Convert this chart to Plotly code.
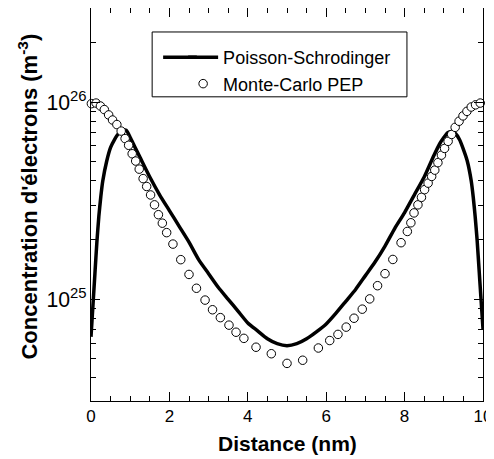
import plotly.graph_objects as go

# Poisson-Schrodinger curve: distance (nm) and log10 of concentration
ps_x = [0, 0.05, 0.1, 0.15, 0.2, 0.25, 0.3, 0.4, 0.5, 0.6, 0.7, 0.8, 0.9, 1.0, 1.1,
        1.25, 1.5, 1.75, 2.0, 2.25, 2.5, 2.75, 3.0, 3.25, 3.5, 3.75, 4.0, 4.25, 4.5,
        4.75, 5.0, 5.25, 5.5, 5.75, 6.0, 6.25, 6.5, 6.75, 7.0, 7.25, 7.5, 7.75, 8.0,
        8.25, 8.5, 8.75, 8.9, 9.0, 9.1, 9.2, 9.3, 9.4, 9.5, 9.6, 9.7, 9.75, 9.8, 9.85,
        9.9, 9.95, 10.0]
ps_log = [24.81, 24.97, 25.13, 25.29, 25.42, 25.52, 25.60, 25.70, 25.77, 25.81, 25.84,
          25.855, 25.857, 25.82, 25.78, 25.72, 25.62, 25.53, 25.45, 25.37, 25.29, 25.20,
          25.13, 25.06, 25.00, 24.94, 24.88, 24.84, 24.80, 24.775, 24.765, 24.775, 24.80,
          24.835, 24.875, 24.93, 24.99, 25.05, 25.12, 25.19, 25.27, 25.36, 25.44, 25.53,
          25.62, 25.73, 25.79, 25.82, 25.845, 25.85, 25.84, 25.81, 25.76, 25.70, 25.60,
          25.52, 25.42, 25.30, 25.15, 25.00, 24.85]

# Monte-Carlo PEP points
mc_x = [0.01, 0.13, 0.24, 0.34, 0.45, 0.55, 0.66, 0.77, 0.87, 0.96, 1.05, 1.14, 1.23,
        1.33, 1.42, 1.52, 1.62, 1.72, 1.82, 1.93, 2.09, 2.29, 2.50, 2.69, 2.91, 3.10,
        3.30, 3.52, 3.70, 3.90, 4.21, 4.60, 5.00, 5.40, 5.80, 6.09, 6.30, 6.51, 6.71,
        6.92, 7.11, 7.31, 7.50, 7.70, 7.91, 8.07, 8.16, 8.24, 8.34, 8.43, 8.51, 8.60,
        8.69, 8.77, 8.85, 8.94, 9.02, 9.11, 9.20, 9.29, 9.39, 9.49, 9.59, 9.70, 9.81,
        9.93]
mc_log = [25.992, 25.995, 25.980, 25.962, 25.935, 25.909, 25.886, 25.853, 25.815,
          25.781, 25.738, 25.701, 25.660, 25.612, 25.572, 25.529, 25.479, 25.429,
          25.386, 25.338, 25.280, 25.201, 25.126, 25.056, 24.996, 24.947, 24.907,
          24.869, 24.833, 24.802, 24.757, 24.724, 24.675, 24.691, 24.753, 24.791,
          24.822, 24.859, 24.904, 24.950, 25.002, 25.069, 25.130, 25.202, 25.287,
          25.344, 25.388, 25.438, 25.479, 25.517, 25.556, 25.589, 25.623, 25.655,
          25.693, 25.731, 25.765, 25.801, 25.836, 25.872, 25.903, 25.930, 25.953,
          25.975, 25.986, 25.995]

ps_y = [10 ** v for v in ps_log]
mc_y = [10 ** v for v in mc_log]

FONT = "Arial, Liberation Sans, sans-serif"

fig = go.Figure()

fig.add_trace(go.Scatter(
    x=ps_x, y=ps_y, mode="lines", name="Poisson-Schrodinger",
    line=dict(color="black", width=3.5, shape="spline", smoothing=0.6),
))

fig.add_trace(go.Scatter(
    x=mc_x, y=mc_y, mode="markers", name="Monte-Carlo PEP",
    marker=dict(symbol="circle", size=8.5, color="white",
                line=dict(color="black", width=1)),
    cliponaxis=False
))

# legend frame
fig.add_shape(type="rect", xref="paper", yref="paper",
              x0=0.156, x1=0.806, y0=0.774, y1=0.939,
              line=dict(color="black", width=1), fillcolor="rgba(0,0,0,0)")
# longer sample line for the first legend entry
fig.add_shape(type="line", xref="paper", yref="paper",
              x0=0.184, x1=0.27, y0=0.8745, y1=0.8745,
              line=dict(color="black", width=3.5))

# axis titles
fig.add_annotation(text="<b>Distance (nm)</b>", xref="paper", yref="paper",
                   x=0.5, y=-0.107, xanchor="center", yanchor="middle",
                   showarrow=False, font=dict(size=21, family=FONT))
fig.add_annotation(text="<b>Concentration d'électrons (m<sup>-3</sup>)</b>",
                   xref="paper", yref="paper", x=-0.161, y=0.52,
                   xanchor="center", yanchor="middle", textangle=-90,
                   showarrow=False, font=dict(size=22, family=FONT))

# the page body adds an 8 px offset; margins are set against that
fig.update_layout(
    width=494, height=451,
    margin=dict(l=83, r=19, t=0, b=58),
    paper_bgcolor="white",
    plot_bgcolor="white",
    font=dict(family=FONT, size=17, color="black"),
    legend=dict(x=0.235, y=0.921, xanchor="left", yanchor="top",
                bgcolor="rgba(0,0,0,0)", borderwidth=0,
                font=dict(size=18, family=FONT), tracegroupgap=0),
    xaxis=dict(
        range=[0, 10], dtick=2, tick0=0, automargin=False,
        ticks="inside", ticklen=9, tickwidth=1, tickcolor="black",
        showline=True, linecolor="black", linewidth=1, mirror="ticks",
        showgrid=False, zeroline=False,
        minor=dict(dtick=0.5, ticks="inside", ticklen=5, tickcolor="black", showgrid=False),
        tickfont=dict(size=17, family=FONT),
    ),
    yaxis=dict(
        type="log", range=[24.4843, 26.4771], dtick=1, exponentformat="power",
        automargin=False,
        ticks="inside", ticklen=9, tickwidth=1, tickcolor="black",
        showline=True, linecolor="black", linewidth=1, mirror="ticks",
        showgrid=False, zeroline=False,
        minor=dict(dtick="D1", ticks="inside", ticklen=5, tickcolor="black", showgrid=False),
        tickfont=dict(size=17, family=FONT),
    ),
)

fig.write_html("out.html")
